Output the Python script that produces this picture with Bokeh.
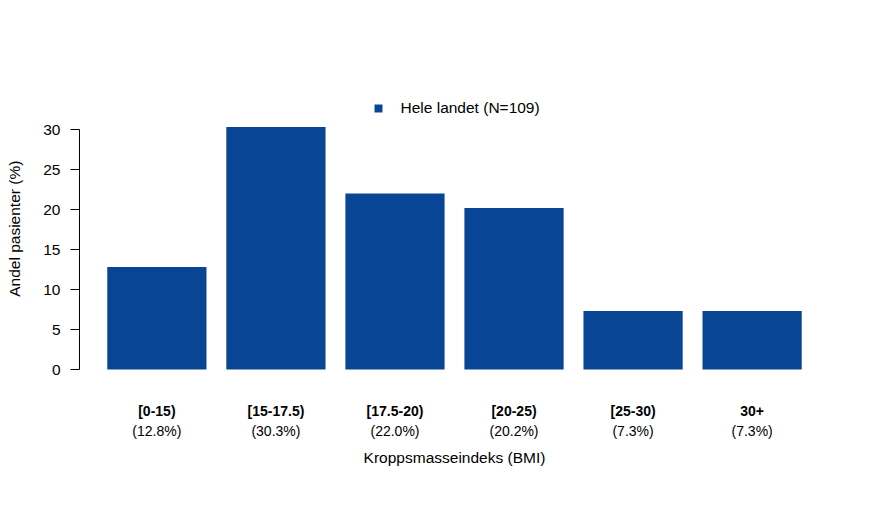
from math import pi
from bokeh.plotting import figure
from bokeh.models import Range1d, LinearAxis, FixedTicker, Label, ColumnDataSource, Legend, LegendItem
from bokeh.core.properties import value
from bokeh.embed import file_html
from bokeh.resources import INLINE

categories = ["[0-15)", "[15-17.5)", "[17.5-20)", "[20-25)", "[25-30)", "30+"]
shares = [12.8, 30.3, 22.0, 20.2, 7.3, 7.3]
y_ticks = [0, 5, 10, 15, 20, 25, 30]
series_name = "Hele landet (N=109)"
x_title = "Kroppsmasseindeks (BMI)"
y_title = "Andel pasienter (%)"

FONT = "Liberation Sans"
BAR = "#084594"

centers = [0.7 + 1.2 * i for i in range(len(categories))]
pct = ["(%.1f%%)" % v for v in shares]

src = ColumnDataSource(dict(x=centers, top=shares, cat=categories, pct=pct,
                            y1=[-5.125] * len(categories), y2=[-7.625] * len(categories)))

p = figure(width=862, height=517, output_backend="svg", toolbar_location=None,
           x_axis_type=None, y_axis_type=None,
           x_range=Range1d(-0.8763, 7.48), y_range=Range1d(-13.875, 38.625),
           min_border_left=0, min_border_right=33, min_border_top=60, min_border_bottom=37)
p.outline_line_color = None
p.grid.visible = False
p.background_fill_color = "white"
p.border_fill_color = "white"

r = p.vbar(x="x", top="top", bottom=0, width=1.0, source=src, fill_color=BAR, line_color=None)

yaxis = LinearAxis(ticker=FixedTicker(ticks=y_ticks), bounds=(0, 30), fixed_location=-0.08)
yaxis.axis_line_color = "black"
yaxis.major_tick_line_color = "black"
yaxis.minor_tick_line_color = None
yaxis.major_tick_out = 9
yaxis.major_tick_in = 0
yaxis.major_label_standoff = 10
yaxis.major_label_text_font = FONT
yaxis.major_label_text_font_size = "15.5px"
yaxis.major_label_text_color = "black"
p.add_layout(yaxis, "left")

p.text(x="x", y="y1", text="cat", source=src, text_font=value(FONT), text_font_size="14px",
       text_font_style="bold", text_align="center", text_baseline="middle", text_color="black")
p.text(x="x", y="y2", text="pct", source=src, text_font=value(FONT), text_font_size="14px",
       text_align="center", text_baseline="middle", text_color="black")

p.add_layout(Label(x=3.7, y=-11.0, text=x_title, text_font=FONT, text_font_size="15.5px",
                   text_align="center", text_baseline="middle", text_color="black"))
p.add_layout(Label(x=-0.735, y=17.6, text=y_title, angle=pi / 2, text_font=FONT,
                   text_font_size="15.5px", text_align="center", text_baseline="middle",
                   text_color="black"))

legend = Legend(items=[LegendItem(label=series_name, renderers=[r])], location=(372.5, 362),
                orientation="horizontal", border_line_color=None, background_fill_alpha=0,
                glyph_width=10, glyph_height=10, label_standoff=18, padding=0, margin=0,
                label_text_font=FONT, label_text_font_size="15.5px", label_text_color="black",
                label_height=20)
p.add_layout(legend, "center")

open("out.html", "w").write(file_html(p, INLINE))
